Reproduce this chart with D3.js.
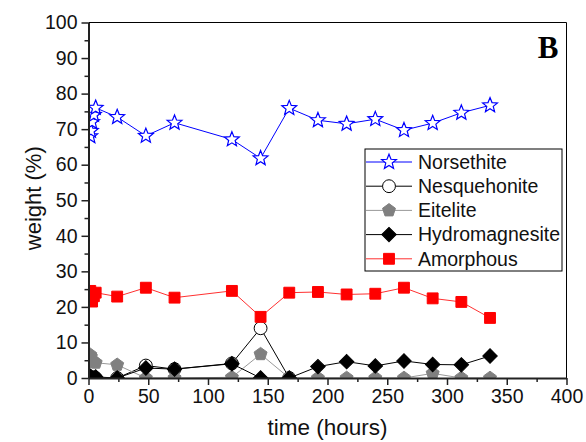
<!DOCTYPE html>
<html>
<head>
<meta charset="utf-8">
<script src="https://cdn.jsdelivr.net/npm/d3@7"></script>
<style>
  body { margin: 0; background: #fff; }
  svg { font-family: "Liberation Sans", Arial, sans-serif; }
</style>
</head>
<body>
<div id="chart"></div>
<script>
// data
var hours = [1.5, 2, 3, 4.5, 6, 24, 48, 72, 120, 144, 168, 192, 216, 240, 264, 288, 312, 336];
var norsethite = [68, 69.5, 72, 74, 76, 73.4, 68.1, 71.8, 67.1, 61.8, 75.9, 72.5, 71.5, 72.8, 69.7, 71.7, 74.6, 76.7];
var nesquehonite = [0, 0, 0, 0, 0, 0, 3.5, 2.5, 4.1, 14, 0, null, null, null, null, null, null, null];
var eitelite = [6.5, 6, 5, 4.5, 4.3, 3.7, 0, 0, 0.2, 6.7, 0, 0, 0, 0, 0, 1.3, 0, 0];
var hydromagnesite = [0.5, 0.3, 0, 0, 0.3, 0, 2.8, 2.5, 4.0, 0, 0, 3.2, 4.6, 3.4, 4.8, 3.8, 3.7, 6.2];
var amorphous = [24.5, 22, 21.5, 23, 24, 22.9, 25.4, 22.6, 24.5, 17.2, 24.0, 24.2, 23.5, 23.7, 25.4, 22.4, 21.4, 16.9];

var seriesNames = ["Norsethite", "Nesquehonite", "Eitelite", "Hydromagnesite", "Amorphous"];
var xTicks = [0, 50, 100, 150, 200, 250, 300, 350, 400];
var yTicks = [0, 10, 20, 30, 40, 50, 60, 70, 80, 90, 100];

var svgWidth = 586;
var svgHeight = 442;
var margin = { top: 22.5, right: 19.5, bottom: 64, left: 88.5 };
var width = svgWidth - margin.left - margin.right;
var height = svgHeight - margin.top - margin.bottom;

var svg = d3.select("#chart").append("svg")
  .attr("width", svgWidth)
  .attr("height", svgHeight);

var chartGroup = svg.append("g")
  .attr("transform", `translate(${margin.left}, ${margin.top})`);

var xScale = d3.scaleLinear().domain([0, 400]).range([0, width]);
var yScale = d3.scaleLinear().domain([0, 100]).range([height, 0]);

// marker shapes
function starPath(ro, ri) {
  var pts = [];
  for (var k = 0; k < 10; k++) {
    var r = k % 2 ? ri : ro;
    var a = -Math.PI / 2 + k * Math.PI / 5;
    pts.push([r * Math.cos(a), r * Math.sin(a)]);
  }
  return "M" + pts.join("L") + "Z";
}
function pentagonPath(r) {
  var pts = [];
  for (var k = 0; k < 5; k++) {
    var a = -Math.PI / 2 + k * 2 * Math.PI / 5;
    pts.push([r * Math.cos(a), r * Math.sin(a)]);
  }
  return "M" + pts.join("L") + "Z";
}

var series = [
  { name: "Norsethite", values: norsethite, line: "#0000ff", fill: "#fff", stroke: "#0000ff",
    path: starPath(7.8, 3.4), rot: 0, sw: 1.2 },
  { name: "Nesquehonite", values: nesquehonite, line: "#000", fill: "#fff", stroke: "#000",
    path: d3.symbol(d3.symbolCircle, 130)(), rot: 0, sw: 1 },
  { name: "Eitelite", values: eitelite, line: "#999", fill: "#808080", stroke: "#808080",
    path: pentagonPath(6.8), rot: 0, sw: 1 },
  { name: "Hydromagnesite", values: hydromagnesite, line: "#000", fill: "#000", stroke: "#000",
    path: d3.symbol(d3.symbolSquare, 105)(), rot: 45, sw: 1 },
  { name: "Amorphous", values: amorphous, line: "#ff3030", fill: "#ff0000", stroke: "#ff0000",
    path: d3.symbol(d3.symbolSquare, 118)(), rot: 0, sw: 1 }
];

svg.append("defs").append("clipPath").attr("id", "plotClip")
  .append("rect").attr("width", width).attr("height", height);

var plot = chartGroup.append("g").attr("clip-path", "url(#plotClip)");

var lineGen = d3.line()
  .defined(d => d.v !== null)
  .x(d => xScale(d.t))
  .y(d => yScale(d.v));

series.forEach(function(s) {
  var pts = hours.map((t, i) => ({ t: t, v: s.values[i] }));
  plot.append("path")
    .datum(pts)
    .attr("fill", "none")
    .attr("stroke", s.line)
    .attr("stroke-width", 1)
    .attr("d", lineGen);
  plot.selectAll(null)
    .data(pts.filter(d => d.v !== null))
    .enter()
    .append("path")
    .attr("d", s.path)
    .attr("transform", d => `translate(${xScale(d.t)},${yScale(d.v)}) rotate(${s.rot})`)
    .attr("fill", s.fill)
    .attr("stroke", s.stroke)
    .attr("stroke-width", s.sw);
});

// frame (top / right)
chartGroup.append("path")
  .attr("d", `M0,0H${width}V${height}`)
  .attr("fill", "none")
  .attr("stroke", "#000")
  .attr("stroke-width", 1);

// minor ticks
chartGroup.append("g")
  .attr("transform", `translate(0, ${height})`)
  .call(d3.axisBottom(xScale).tickValues(d3.range(25, 400, 50)).tickSize(4).tickFormat(""))
  .call(g => g.select(".domain").remove())
  .selectAll("line").attr("stroke", "#222").attr("stroke-width", 1.5);
chartGroup.append("g")
  .call(d3.axisLeft(yScale).tickValues(d3.range(5, 100, 10)).tickSize(4).tickFormat(""))
  .call(g => g.select(".domain").remove())
  .selectAll("line").attr("stroke", "#222").attr("stroke-width", 1.5);

// major axes
var xAxis = chartGroup.append("g")
  .attr("transform", `translate(0, ${height})`)
  .call(d3.axisBottom(xScale).tickValues(xTicks).tickSize(7).tickSizeOuter(0).tickPadding(4));
var yAxis = chartGroup.append("g")
  .call(d3.axisLeft(yScale).tickValues(yTicks).tickSize(7).tickSizeOuter(0).tickPadding(4));

[xAxis, yAxis].forEach(function(g) {
  g.select(".domain").attr("stroke", "#222").attr("stroke-width", 2);
  g.selectAll(".tick line").attr("stroke", "#222").attr("stroke-width", 1.5);
  g.selectAll(".tick text")
    .attr("fill", "#111")
    .style("font-size", "19.5px")
    .style("font-family", "Liberation Sans, Arial, sans-serif");
});

// axis titles
chartGroup.append("text")
  .attr("x", width / 2)
  .attr("y", height + 57)
  .attr("text-anchor", "middle")
  .style("font-size", "22.5px")
  .attr("fill", "#111")
  .text("time (hours)");

chartGroup.append("text")
  .attr("transform", "rotate(-90)")
  .attr("x", -(height / 2) + 2)
  .attr("y", -48)
  .attr("text-anchor", "middle")
  .style("font-size", "22px")
  .attr("fill", "#111")
  .text("weight (%)");

// panel letter
chartGroup.append("text")
  .attr("x", width - 8)
  .attr("y", 35)
  .attr("text-anchor", "end")
  .style("font-family", "Liberation Serif, Times New Roman, serif")
  .style("font-weight", "bold")
  .style("font-size", "31px")
  .text("B");

// legend
var legend = svg.append("g").attr("transform", "translate(365, 149)");
legend.append("rect")
  .attr("width", 197)
  .attr("height", 122)
  .attr("fill", "#fff")
  .attr("stroke", "#000")
  .attr("stroke-width", 1);

series.forEach(function(s, i) {
  var y = 13 + i * 24.2;
  var row = legend.append("g").attr("transform", `translate(0, ${y})`);
  row.append("line")
    .attr("x1", 1).attr("x2", 47)
    .attr("stroke", s.line)
    .attr("stroke-width", 1);
  row.append("path")
    .attr("d", s.path)
    .attr("transform", `translate(24,0) rotate(${s.rot})`)
    .attr("fill", s.fill)
    .attr("stroke", s.stroke)
    .attr("stroke-width", s.sw);
  row.append("text")
    .attr("x", 53)
    .attr("dy", "0.35em")
    .style("font-size", "19.5px")
    .attr("fill", "#111")
    .text(seriesNames[i]);
});
</script>
</body>
</html>
